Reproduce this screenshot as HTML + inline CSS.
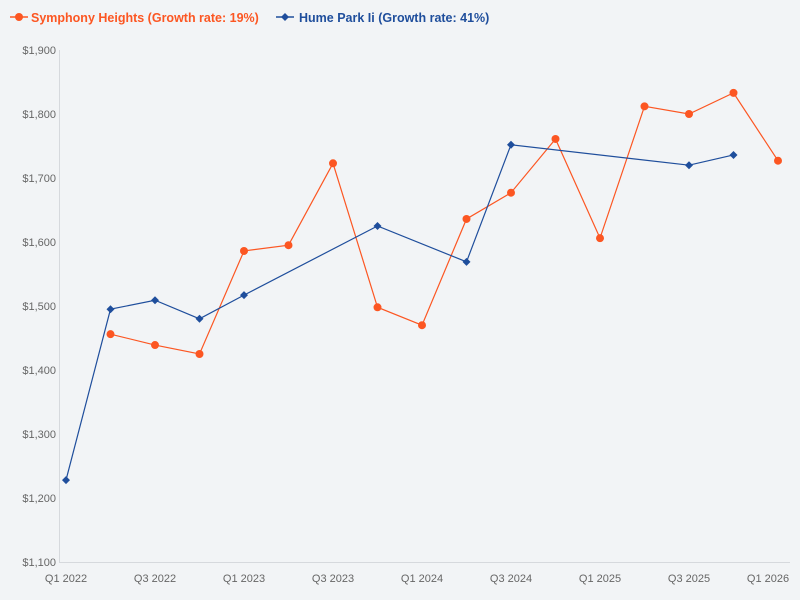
<!DOCTYPE html>
<html><head><meta charset="utf-8"><style>
body{margin:0;background:#f2f4f6;font-family:"Liberation Sans",sans-serif}
svg{display:block}
</style></head><body>
<svg id="chart" width="800" height="600">
<rect width="800" height="600" fill="#f2f4f6"/>
<g>
<g>
<line x1="10" y1="17" x2="28" y2="17" stroke="#fc5622" stroke-width="1.5"/>
<circle cx="19" cy="17" r="4" fill="#fc5622"/>
<text x="31" y="22" font-size="12.5" font-weight="bold" fill="#fc5622">Symphony Heights (Growth rate: 19%)</text></g>
<g>
<line x1="276" y1="17" x2="294" y2="17" stroke="#1f4e9c" stroke-width="1.5"/>
<path d="M285 13 L289 17 L285 21 L281 17Z" fill="#1f4e9c"/>
<text x="299" y="22" font-size="12.5" font-weight="bold" fill="#1f4e9c">Hume Park Ii (Growth rate: 41%)</text></g>
</g>
<line x1="59.5" y1="50" x2="59.5" y2="562" stroke="#d6d9dd"/>
<line x1="59" y1="562.5" x2="790" y2="562.5" stroke="#d6d9dd"/>
<g id="yticks"></g><g id="xticks"></g><g id="series"></g>
</svg>
<script>
const quarters=["Q1 2022","Q2 2022","Q3 2022","Q4 2022","Q1 2023","Q2 2023","Q3 2023","Q4 2023","Q1 2024","Q2 2024","Q3 2024","Q4 2024","Q1 2025","Q2 2025","Q3 2025","Q4 2025","Q1 2026"];
const xTickLabels=["Q1 2022","Q3 2022","Q1 2023","Q3 2023","Q1 2024","Q3 2024","Q1 2025","Q3 2025","Q1 2026"];
const yTicks=[1100,1200,1300,1400,1500,1600,1700,1800,1900];
const symphonyQ=[1,2,3,4,5,6,7,8,9,10,11,12,13,14,15,16];
const symphonyV=[1456,1439,1425,1586,1595,1723,1498,1470,1636,1677,1761,1606,1812,1800,1833,1727];
const humeQ=[0,1,2,3,4,7,9,10,14,15];
const humeV=[1228,1495,1509,1480,1517,1625,1569,1752,1720,1736];
const NS="http://www.w3.org/2000/svg";
const x=i=>66+i*44.5;
const y=v=>562-(v-1100)*0.64;
function mk(tag,attrs,parent){const e=document.createElementNS(NS,tag);for(const k in attrs)e.setAttribute(k,attrs[k]);parent.appendChild(e);return e;}
const yg=document.getElementById('yticks');
yTicks.forEach(v=>{const t=mk('text',{x:56,y:y(v)+4,'text-anchor':'end','font-size':11,fill:'#666'},yg);


t.textContent='$'+v.toLocaleString('en-US');});
const xg=document.getElementById('xticks');
xTickLabels.forEach(l=>{const i=quarters.indexOf(l);let cx=x(i);if(cx>768)cx=768;
const t=mk('text',{x:cx,y:582,'text-anchor':'middle','font-size':11,fill:'#666'},xg);


t.textContent=l;});
const sg=document.getElementById('series');
function series(qs,vs,color,name,diamond){
const g=mk('g',{},sg);


const p=mk('polyline',{points:qs.map((q,i)=>x(q)+','+y(vs[i])).join(' '),fill:'none',stroke:color,'stroke-width':1.2},g);


qs.forEach((q,i)=>{const cx=x(q),cy=y(vs[i]);let m;
if(diamond)m=mk('path',{d:`M${cx} ${cy-4}L${cx+4} ${cy}L${cx} ${cy+4}L${cx-4} ${cy}Z`,fill:color},g);
else m=mk('circle',{cx:cx,cy:cy,r:4,fill:color},g);

});
}
series(symphonyQ,symphonyV,'#fc5622','symphony-heights',false);
series(humeQ,humeV,'#1f4e9c','hume-park-ii',true);
</script>
</body></html>
